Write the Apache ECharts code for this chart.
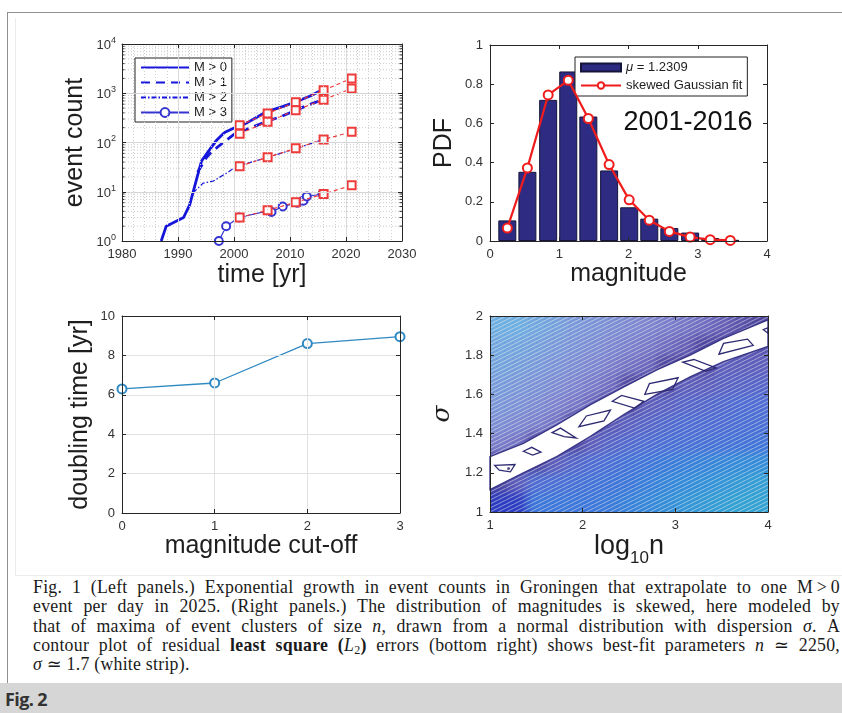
<!DOCTYPE html>
<html>
<head>
<meta charset="utf-8">
<title>Groningen event counts</title>
<script src="https://cdn.jsdelivr.net/npm/echarts@6/dist/echarts.min.js"></script>
<style>
  html, body { margin: 0; padding: 0; background: #fff; }
  body { width: 842px; height: 713px; position: relative; overflow: hidden; }
  #chart { position: absolute; left: 0; top: 0; width: 842px; height: 580px; z-index: 1; }
  #heatClip { position: absolute; left: 490px; top: 316px; width: 278px; height: 196px; overflow: hidden; z-index: 0; }
  #heat { position: absolute; left: -20px; top: -20px; width: 318px; height: 236px; filter: blur(5px); }
  .rule { position: absolute; background: #8f8f8f; z-index: 2; }
  .faint { position: absolute; background: #ececec; z-index: 2; }
  #caption {
    position: absolute; left: 33px; top: 578px; width: 807px;
    font-family: 'Liberation Serif', 'DejaVu Serif', serif; font-size: 17.8px;
    line-height: 19.3px; color: #1a1a1a; letter-spacing: 0.25px;
  }
  #caption div { text-align: justify; text-align-last: justify; white-space: nowrap; }
  #caption div.last { text-align-last: left; }
  #caption sub { font-size: 12px; line-height: 0; vertical-align: -3px; }
  #figbar { position: absolute; left: 0; top: 683px; width: 842px; height: 30px; background: #d6d6d6; }
  #figbar span { position: absolute; left: 5px; top: 4px; font: bold 18px 'Open Sans', sans-serif; color: #333; letter-spacing: -0.6px; }
</style>
</head>
<body>
<div id="heatClip"><div id="heat"></div></div>
<div id="chart"></div>
<div class="rule" style="left:7px;top:12px;width:1px;height:671px"></div>
<div class="rule" style="left:7px;top:12px;width:835px;height:1px"></div>
<div class="faint" style="left:15px;top:18px;width:1px;height:557px"></div>
<div class="faint" style="left:15px;top:575px;width:827px;height:1px"></div>
<div id="caption">
  <div>Fig. 1 (Left panels.) Exponential growth in event counts in Groningen that extrapolate to one M&thinsp;&gt;&thinsp;0</div>
  <div>event per day in 2025. (Right panels.) The distribution of magnitudes is skewed, here modeled by</div>
  <div>that of maxima of event clusters of size <i>n</i>, drawn from a normal distribution with dispersion <i>σ</i>. A</div>
  <div>contour plot of residual <b>least square (</b><i>L</i><sub>2</sub><b>)</b> errors (bottom right) shows best-fit parameters <i>n</i> ≃ 2250,</div>
  <div class="last"><i>σ</i> ≃ 1.7 (white strip).</div>
</div>
<div id="figbar"><span>Fig. 2</span></div>

<script>
const FONT = 'Liberation Sans, Arial, sans-serif'

// ---- top left: cumulative event counts ----
const yearsM0 = [1987.0, 1987.9, 1991.0, 1992.1, 1993.2, 1994.2, 1995.3, 1996.8, 1998.3, 2000.3, 2002.3, 2005.8, 2008.8, 2011.2, 2013.6, 2015.8]
const countM0 = [1, 2, 3, 5.5, 16, 42, 63, 108, 160, 205, 250, 420, 540, 680, 880, 1180]
const yearsM1 = [1993.5, 1995.0, 1996.0, 1998.1, 2000.3, 2003.0, 2005.8, 2008.5, 2010.6, 2013.0, 2015.8]
const countM1 = [25, 48, 65, 100, 155, 200, 265, 340, 430, 560, 740]
const yearsM2 = [1992.7, 1994.5, 1996.3, 1998.7, 2000.5, 2005.8, 2011.2, 2015.8]
const countM2 = [9.5, 15, 16.5, 24, 33, 49, 76, 114]
const yearsM3 = [1997.3, 1998.6, 2000.9, 2006.1, 2006.7, 2008.7, 2011.3, 2012.4, 2013.0, 2015.8]
const countM3 = [1, 2, 3, 4.1, 3.9, 5, 6, 6.6, 8, 9]
const fitYears = [2001, 2006, 2011, 2016, 2021]
const fitM0 = [225, 390, 660, 1150, 2000]
const fitM1 = [150, 265, 450, 740, 1250]
const fitM2 = [33, 50, 76, 115, 165]
const fitM3 = [3, 4.2, 6.1, 9, 13.5]
const countNames = ['M > 0', 'M > 1', 'M > 2', 'M > 3']

// ---- top right: magnitude histogram ----
const magBins = [0.25, 0.54, 0.84, 1.13, 1.42, 1.72, 2.01, 2.30, 2.59, 2.89, 3.18, 3.47]
const pdfHist = [0.105, 0.353, 0.72, 0.865, 0.635, 0.36, 0.172, 0.114, 0.066, 0.043, 0.015, 0.006]
const pdfFit = [0.066, 0.373, 0.745, 0.82, 0.625, 0.39, 0.21, 0.106, 0.049, 0.02, 0.007, 0.003]

// ---- bottom left: doubling time ----
const cutoffs = [0, 1, 2, 3]
const doubling = [6.3, 6.6, 8.6, 8.95]

// ---- bottom right: residual contour (colour level per cell) ----
const heatX = [1.1, 1.3, 1.5, 1.7, 1.9, 2.1, 2.3, 2.5, 2.7, 2.9, 3.1, 3.3, 3.5, 3.7, 3.9]
const heatY = [1.95, 1.85, 1.75, 1.65, 1.55, 1.45, 1.35, 1.25, 1.15, 1.05]
const heatLevels = [
  [0, 0, 0.3, 0.6, 1, 1.2, 1.5, 1.7, 2, 2.2, 2.5, 2.8, 3.2, 3.6, 4],
  [0.3, 0.4, 0.6, 0.9, 1.2, 1.5, 1.8, 2.1, 2.4, 2.8, 3.2, 4, 4, 4, 4.5],
  [0.5, 0.7, 0.9, 1.2, 1.5, 1.8, 2.2, 2.6, 3, 4, 4, 4, 5, 5, 5],
  [0.8, 1, 1.3, 1.6, 1.9, 2.3, 2.8, 4, 4, 4, 5, 5, 5.2, 5.4, 5.5],
  [1.1, 1.3, 1.6, 2, 2.4, 3, 4, 4, 5, 5.2, 5.5, 5.6, 5.8, 6, 6],
  [1.5, 1.8, 2.1, 2.6, 4, 4, 4.8, 5.2, 5.5, 5.8, 6, 6, 6, 6.2, 6.2],
  [2.2, 2.6, 4, 4, 4, 5, 5.5, 5.8, 6, 6.2, 6.3, 6.4, 6.5, 6.6, 6.7],
  [4, 4, 4, 5, 5.6, 6, 6.3, 6.6, 6.9, 7.2, 7.4, 7.6, 7.8, 8, 8],
  [4, 5, 6, 6.2, 6.4, 6.6, 6.8, 7, 7.4, 7.7, 8, 8.2, 8.4, 8.6, 8.8],
  [10, 10, 7, 7, 7, 7, 7.2, 7.5, 7.8, 8.1, 8.4, 8.6, 8.8, 9, 9]
]
const stripX = [1.0, 1.36, 1.72, 2.08, 2.44, 2.80, 3.16, 3.52, 4.0]
const stripTop = [1.283, 1.35, 1.445, 1.547, 1.637, 1.725, 1.80, 1.886, 1.98]
const stripBottom = [1.114, 1.20, 1.283, 1.385, 1.496, 1.60, 1.69, 1.767, 1.845]
const loops = [
  [[1.05, 1.238], [1.27, 1.242], [1.22, 1.205], [1.10, 1.213]],
  [[1.36, 1.31], [1.45, 1.33], [1.55, 1.305], [1.46, 1.29]],
  [[1.67, 1.405], [1.76, 1.428], [1.93, 1.378], [1.80, 1.385]],
  [[1.96, 1.435], [2.04, 1.49], [2.30, 1.52], [2.23, 1.465]],
  [[2.32, 1.565], [2.42, 1.595], [2.66, 1.565], [2.56, 1.53]],
  [[2.67, 1.60], [2.72, 1.655], [3.03, 1.685], [2.97, 1.625]],
  [[3.08, 1.765], [3.20, 1.778], [3.44, 1.735], [3.33, 1.718]],
  [[3.47, 1.805], [3.52, 1.86], [3.78, 1.882], [3.84, 1.85]],
  [[3.95, 1.93], [4.0, 1.94], [4.0, 1.912]]
]
const loopDot = [[1.2, 1.222]]
const contourPalette = ['#6eaee0', '#7a98d8', '#7e84ce', '#6c68bc', '#4e469e', '#5e5ebb', '#4e6cd2', '#3c76d8', '#348bd8', '#34a1d2', '#2c3cc0']

// the contour panel limits (shared by both chart instances)
const sigMin = 1, sigMax = 2, logMin = 1, logMax = 4

const tickStyle = { show: true, inside: true, length: 4, lineStyle: { color: '#262626' } }
const lineStyleAxis = { show: true, onZero: false, lineStyle: { color: '#262626', width: 1 } }
const labelStyle = { color: '#333', fontSize: 13, fontFamily: FONT, margin: 7 }
const nameStyle = { color: '#1e1e1e', fontSize: 25, fontFamily: FONT }

function mainAxis(opt) {
  return Object.assign({
    nameLocation: 'middle',
    nameTextStyle: nameStyle,
    axisLine: lineStyleAxis,
    axisTick: tickStyle,
    axisLabel: labelStyle,
    splitLine: { show: false },
    z: 5
  }, opt)
}
function mirrorAxis(opt) {
  return Object.assign({
    axisLine: lineStyleAxis,
    axisTick: tickStyle,
    axisLabel: { show: false },
    splitLine: { show: false },
    z: 5
  }, opt)
}

// ---------- colour field layer (blurred to look like the dense contour lines) ----------
const heatChart = echarts.init(document.getElementById('heat'), null, { renderer: 'canvas' })
const cellW = heatX[1] - heatX[0]
const cellH = heatY[0] - heatY[1]
const heatCells = []
heatLevels.forEach((row, r) => row.forEach((v, c) => heatCells.push([heatX[c], heatY[r], v])))
heatChart.setOption({
  animation: false,
  grid: { left: 20, top: 20, width: 278, height: 196 },
  xAxis: { type: 'value', min: logMin, max: logMax, show: false },
  yAxis: { type: 'value', min: sigMin, max: sigMax, show: false },
  visualMap: { type: 'continuous', show: false, dimension: 2, min: 0, max: 10, inRange: { color: contourPalette } },
  series: [{
    type: 'custom', clip: false, silent: true,
    data: heatCells,
    renderItem: (params, api) => {
      const x = api.value(0), y = api.value(1)
      const x0 = x - cellW / 2, x1 = x + cellW / 2, y0 = y - cellH / 2, y1 = y + cellH / 2
      const p0 = api.coord([x0, y1])
      const p1 = api.coord([x1, y0])
      // stretch the outer cells past the frame so the blur does not fade at the edges
      const pad = 20
      const left = x0 <= logMin + 1e-6 ? p0[0] - pad : p0[0]
      const right = x1 >= logMax - 1e-6 ? p1[0] + pad : p1[0] + 0.6
      const top = y1 >= sigMax - 1e-6 ? p0[1] - pad : p0[1]
      const bottom = y0 <= sigMin + 1e-6 ? p1[1] + pad : p1[1] + 0.6
      return { type: 'rect', shape: { x: left, y: top, width: right - left, height: bottom - top }, style: { fill: api.visual('color') } }
    }
  }]
})

// fine diagonal hatch, like the gaps between contour lines
const hatch = document.createElement('canvas')
hatch.width = 8; hatch.height = 4
const hctx = hatch.getContext('2d')
hctx.strokeStyle = 'rgba(255,255,255,0.42)'
hctx.lineWidth = 1.1
hctx.beginPath()
hctx.moveTo(-8, 4); hctx.lineTo(8, -4)
hctx.moveTo(0, 4); hctx.lineTo(8, 0)
hctx.moveTo(8, 4); hctx.lineTo(16, 0)
hctx.stroke()

// ---------- main chart ----------
const chart = echarts.init(document.getElementById('chart'), null, { renderer: 'canvas' })

// decade minor grid lines for the log axis (2..9 in each decade)
const minorLevels = []
;[1, 10, 100, 1000].forEach(d => { for (let k = 2; k <= 9; k++) minorLevels.push(d * k) })

const blue = '#1616da'
const red = '#ef3a3a'
function pairs(xs, ys) { return xs.map((x, i) => [x, ys[i]]) }

const series = []

// log minor grid (drawn under the data)
series.push({
  type: 'custom', xAxisIndex: 0, yAxisIndex: 0, silent: true, z: 1,
  data: minorLevels.map(v => [1980, v]),
  renderItem: (params, api) => {
    const a = api.coord([1980, api.value(1)])
    const b = api.coord([2030, api.value(1)])
    return {
      type: 'group',
      children: [
        { type: 'line', shape: { x1: a[0], y1: a[1], x2: b[0], y2: b[1] }, style: { stroke: '#cbcbcb', lineWidth: 1, lineDash: [1, 2] } },
        { type: 'line', shape: { x1: a[0], y1: a[1], x2: a[0] + 2.5, y2: a[1] }, style: { stroke: '#333', lineWidth: 1 } },
        { type: 'line', shape: { x1: b[0] - 2.5, y1: b[1], x2: b[0], y2: b[1] }, style: { stroke: '#333', lineWidth: 1 } }
      ]
    }
  }
})

const countStyles = [
  { width: 2.8, type: 'solid' },
  { width: 2.8, type: [9, 6] },
  { width: 1.2, type: [5, 2, 1.5, 2] },
  { width: 1.2, type: 'solid' }
]
const countData = [pairs(yearsM0, countM0), pairs(yearsM1, countM1), pairs(yearsM2, countM2), pairs(yearsM3, countM3)]
countNames.forEach((name, i) => {
  series.push({
    name, type: 'line', xAxisIndex: 0, yAxisIndex: 0, z: 3,
    data: countData[i],
    color: i === 3 ? '#3434d2' : blue,
    lineStyle: countStyles[i],
    symbol: i === 3 ? 'emptyCircle' : 'none',
    symbolSize: 8,
    itemStyle: { borderWidth: 1.3 }
  })
})
;[fitM0, fitM1, fitM2, fitM3].forEach(fit => {
  series.push({
    type: 'line', xAxisIndex: 0, yAxisIndex: 0, z: 4,
    data: pairs(fitYears, fit),
    color: red,
    lineStyle: { width: 1.2, type: [4, 3] },
    symbol: 'emptyRect', symbolSize: 8,
    itemStyle: { borderWidth: 1.5 }
  })
})

// histogram and fit
series.push({
  name: 'μ = 1.2309', type: 'bar', xAxisIndex: 2, yAxisIndex: 2,
  data: pairs(magBins, pdfHist), barWidth: 18,
  itemStyle: { color: '#2e2c82', borderColor: '#15153a', borderWidth: 1 }
})
series.push({
  name: 'skewed Gaussian fit', type: 'line', xAxisIndex: 2, yAxisIndex: 2, z: 4,
  data: pairs(magBins, pdfFit), color: '#f01c1c',
  lineStyle: { width: 2.2 }, symbol: 'emptyCircle', symbolSize: 9,
  itemStyle: { borderWidth: 1.8 }
})

// doubling time
series.push({
  type: 'line', xAxisIndex: 4, yAxisIndex: 4,
  data: pairs(cutoffs, doubling), color: '#2f89c2',
  lineStyle: { width: 1.3 }, symbol: 'emptyCircle', symbolSize: 9,
  itemStyle: { borderWidth: 1.3 }
})

// white best-fit strip
series.push({
  type: 'custom', xAxisIndex: 6, yAxisIndex: 6, silent: true, z: 3,
  data: stripX.map((x, i) => [x, stripTop[i], stripBottom[i]]),
  renderItem: (params, api) => {
    if (params.dataIndex !== 0) return
    const top = stripX.map((x, i) => api.coord([x, stripTop[i]]))
    const bottom = stripX.map((x, i) => api.coord([x, stripBottom[i]])).reverse()
    return {
      type: 'polygon',
      shape: { points: top.concat(bottom) },
      style: { fill: '#ffffff', stroke: '#3b3788', lineWidth: 1.4 }
    }
  }
})
// closed contour loops inside the strip
series.push({
  type: 'custom', xAxisIndex: 6, yAxisIndex: 6, silent: true, z: 4,
  data: loops.map((q, i) => [q[0][0], q[0][1], i]),
  renderItem: (params, api) => {
    const q = loops[api.value(2)]
    return {
      type: 'polygon',
      shape: { points: q.map(p => api.coord(p)) },
      style: { fill: 'none', stroke: '#2f2b72', lineWidth: 1.3 }
    }
  }
})
series.push({
  type: 'scatter', xAxisIndex: 6, yAxisIndex: 6, z: 4,
  data: loopDot, symbolSize: 3, itemStyle: { color: '#2f2b72' }
})

const legendLine = name => ({ name, itemStyle: { opacity: 0 } })

const option = {
  animation: false,
  backgroundColor: 'transparent',
  textStyle: { fontFamily: FONT },
  grid: [
    { left: 122, top: 44, width: 280, height: 197 },
    { left: 490, top: 45, width: 277, height: 196 },
    { left: 122, top: 316, width: 278, height: 197 },
    { left: 490, top: 316, width: 278, height: 196 }
  ],
  xAxis: [
    mainAxis({
      gridIndex: 0, type: 'value', min: 1980, max: 2030, interval: 10,
      name: 'time [yr]', nameGap: 22,
      axisLabel: Object.assign({}, labelStyle, { formatter: v => String(v) }),
      splitLine: { show: true, lineStyle: { color: '#dadada' } },
      minorTick: { show: false, splitNumber: 5 },
      minorSplitLine: { show: true, lineStyle: { color: '#d0d0d0', type: [1, 2] } }
    }),
    mirrorAxis({ gridIndex: 0, type: 'value', position: 'top', min: 1980, max: 2030, interval: 10 }),
    mainAxis({ gridIndex: 1, type: 'value', min: 0, max: 4, interval: 1, name: 'magnitude', nameGap: 17 }),
    mirrorAxis({ gridIndex: 1, type: 'value', position: 'top', min: 0, max: 4, interval: 1 }),
    mainAxis({
      gridIndex: 2, type: 'value', min: 0, max: 3, interval: 1, name: 'magnitude cut-off', nameGap: 17,
      splitLine: { show: true, lineStyle: { color: '#e2e2e2' } }
    }),
    mirrorAxis({ gridIndex: 2, type: 'value', position: 'top', min: 0, max: 3, interval: 1 }),
    mainAxis({
      gridIndex: 3, type: 'value', min: logMin, max: logMax, interval: 1, name: '{a|log}{s|10}{a|n}', nameGap: 12,
      nameTextStyle: {
        color: '#1e1e1e', fontFamily: FONT,
        rich: {
          a: { fontSize: 27, fontFamily: FONT, color: '#1e1e1e', lineHeight: 34, verticalAlign: 'top' },
          s: { fontSize: 17, fontFamily: FONT, color: '#1e1e1e', lineHeight: 17, verticalAlign: 'bottom' }
        }
      }
    }),
    mirrorAxis({ gridIndex: 3, type: 'value', position: 'top', min: logMin, max: logMax, interval: 1 })
  ],
  yAxis: [
    mainAxis({
      gridIndex: 0, type: 'log', logBase: 10, min: 1, max: 10000,
      name: 'event count', nameGap: 34,
      splitLine: { show: true, lineStyle: { color: '#d6d6d6' } },
      axisLabel: {
        color: '#333', fontFamily: FONT, margin: 6,
        formatter: v => '{b|10}{e|' + Math.round(Math.log10(v)) + '}',
        rich: {
          b: { fontSize: 13, fontFamily: FONT, color: '#333', lineHeight: 16, verticalAlign: 'bottom' },
          e: { fontSize: 9, fontFamily: FONT, color: '#333', lineHeight: 10, verticalAlign: 'top' }
        }
      }
    }),
    mirrorAxis({ gridIndex: 0, type: 'log', logBase: 10, position: 'right', min: 1, max: 10000 }),
    mainAxis({ gridIndex: 1, type: 'value', min: 0, max: 1, interval: 0.2, name: 'PDF', nameGap: 33 }),
    mirrorAxis({ gridIndex: 1, type: 'value', position: 'right', min: 0, max: 1, interval: 0.2 }),
    mainAxis({
      gridIndex: 2, type: 'value', min: 0, max: 10, interval: 2, name: 'doubling time [yr]', nameGap: 29,
      splitLine: { show: true, lineStyle: { color: '#e2e2e2' } }
    }),
    mirrorAxis({ gridIndex: 2, type: 'value', position: 'right', min: 0, max: 10, interval: 2 }),
    mainAxis({
      gridIndex: 3, type: 'value', min: sigMin, max: sigMax, interval: 0.2, name: 'σ', nameGap: 35,
      nameTextStyle: { color: '#1e1e1e', fontSize: 25, fontFamily: 'DejaVu Serif, serif', fontStyle: 'italic' }
    }),
    mirrorAxis({ gridIndex: 3, type: 'value', position: 'right', min: sigMin, max: sigMax, interval: 0.2 })
  ],
  legend: [
    {
      data: [legendLine('M > 0'), legendLine('M > 1'), legendLine('M > 2'), 'M > 3'],
      left: 135, top: 58, orient: 'vertical',
      itemWidth: 48, itemHeight: 11, itemGap: 2, padding: [3, 5, 3, 5],
      borderColor: '#222', borderWidth: 1, backgroundColor: '#fff',
      selectedMode: false,
      textStyle: { fontSize: 13, color: '#1e1e1e', fontFamily: FONT }
    },
    {
      data: [{ name: 'μ = 1.2309', icon: 'rect' }, 'skewed Gaussian fit'],
      left: 575, top: 57, orient: 'vertical',
      itemWidth: 40, itemHeight: 8, itemGap: 5, padding: [4, 5, 4, 5],
      borderColor: '#222', borderWidth: 1, backgroundColor: '#fff',
      selectedMode: false,
      formatter: n => n.replace('μ', '{i|μ}'),
      textStyle: {
        fontSize: 13, color: '#1e1e1e', fontFamily: FONT,
        rich: { i: { fontSize: 13, fontStyle: 'italic', fontFamily: FONT, color: '#1e1e1e' } }
      }
    }
  ],
  graphic: [
    {
      type: 'text', x: 688, y: 123, z: 10,
      style: { text: '2001-2016', fontSize: 27, fontFamily: FONT, fill: '#111', align: 'center', verticalAlign: 'middle' }
    },
    {
      type: 'rect', x: 490, y: 316, z: 1, silent: true,
      shape: { width: 278, height: 196 },
      style: { fill: { image: hatch, repeat: 'repeat' } }
    }
  ],
  series
}
chart.setOption(option)
</script>
</body>
</html>
